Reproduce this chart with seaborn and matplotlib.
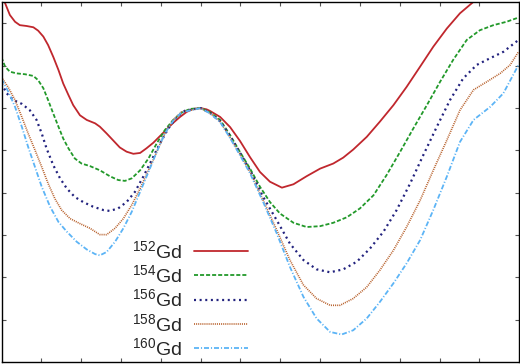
import matplotlib
matplotlib.use('Agg')
import matplotlib.pyplot as plt
import seaborn as sns
import pandas as pd

# deformation (beta) and energy values
beta_152 = [-0.5, -0.491, -0.479, -0.466, -0.454, -0.437, -0.420, -0.408, -0.395, -0.383,
            -0.370, -0.357, -0.345, -0.332, -0.320, -0.303, -0.286, -0.265, -0.253, -0.236,
            -0.219, -0.203, -0.186, -0.169, -0.152, -0.136, -0.119, -0.102, -0.085, -0.069,
            -0.052, -0.035, -0.019, 0.0, 0.015, 0.024, 0.049, 0.074, 0.099, 0.124,
            0.149, 0.174, 0.204, 0.233, 0.266, 0.300, 0.333, 0.358, 0.383, 0.417,
            0.450, 0.484, 0.517, 0.551, 0.584, 0.618, 0.651, 0.681, 0.714]
e_152 = [2.62, 2.48, 2.20, 2.04, 1.96, 1.94, 1.91, 1.83, 1.69, 1.49,
         1.21, 0.90, 0.58, 0.31, 0.07, -0.17, -0.28, -0.36, -0.44, -0.60,
         -0.77, -0.93, -1.03, -1.08, -1.06, -0.95, -0.82, -0.66, -0.50, -0.35,
         -0.21, -0.09, -0.02, 0.0, -0.03, -0.07, -0.21, -0.45, -0.78, -1.16,
         -1.51, -1.74, -1.88, -1.80, -1.61, -1.43, -1.31, -1.17, -0.98, -0.68,
         -0.32, 0.07, 0.50, 0.98, 1.45, 1.88, 2.24, 2.48, 2.74]

beta_154 = [-0.500, -0.491, -0.479, -0.462, -0.441, -0.420, -0.408, -0.395, -0.383, -0.370,
            -0.357, -0.345, -0.332, -0.316, -0.299, -0.278, -0.253, -0.228, -0.207, -0.190,
            -0.173, -0.152, -0.131, -0.110, -0.090, -0.069, -0.048, -0.027, 0.0, 0.024,
            0.049, 0.074, 0.099, 0.124, 0.149, 0.174, 0.199, 0.233, 0.266, 0.300,
            0.333, 0.367, 0.400, 0.434, 0.467, 0.501, 0.534, 0.568, 0.601, 0.634,
            0.668, 0.701, 0.735, 0.768, 0.798]
e_154 = [1.20, 0.98, 0.86, 0.82, 0.80, 0.76, 0.66, 0.47, 0.19, -0.13,
         -0.44, -0.72, -0.95, -1.19, -1.31, -1.37, -1.47, -1.61, -1.70, -1.72,
         -1.66, -1.47, -1.19, -0.83, -0.52, -0.28, -0.11, -0.02, 0.0, -0.10,
         -0.28, -0.64, -1.04, -1.43, -1.86, -2.22, -2.49, -2.71, -2.81, -2.79,
         -2.71, -2.58, -2.37, -2.06, -1.58, -1.03, -0.48, 0.07, 0.62, 1.14,
         1.61, 1.84, 1.96, 2.04, 2.14]

beta_156 = [-0.500, -0.487, -0.470, -0.449, -0.429, -0.412, -0.399, -0.387, -0.370, -0.353,
            -0.336, -0.316, -0.295, -0.270, -0.244, -0.228, -0.207, -0.186, -0.165, -0.144,
            -0.123, -0.102, -0.081, -0.060, -0.039, 0.0, 0.024, 0.049, 0.074, 0.099,
            0.124, 0.157, 0.191, 0.224, 0.258, 0.291, 0.325, 0.358, 0.392, 0.425,
            0.459, 0.492, 0.526, 0.559, 0.593, 0.626, 0.659, 0.693, 0.727, 0.760,
            0.798]
e_156 = [0.58, 0.35, 0.19, 0.10, -0.05, -0.28, -0.60, -0.95, -1.35, -1.66,
         -1.90, -2.10, -2.22, -2.33, -2.41, -2.43, -2.37, -2.22, -1.98, -1.62,
         -1.23, -0.83, -0.48, -0.21, -0.06, 0.0, -0.12, -0.31, -0.66, -1.06,
         -1.47, -2.10, -2.65, -3.20, -3.59, -3.81, -3.88, -3.81, -3.63, -3.32,
         -2.92, -2.41, -1.78, -1.11, -0.44, 0.19, 0.70, 1.02, 1.18, 1.33,
         1.61]

beta_158 = [-0.500, -0.483, -0.466, -0.449, -0.433, -0.416, -0.399, -0.383, -0.366, -0.349,
            -0.328, -0.303, -0.278, -0.253, -0.236, -0.215, -0.194, -0.173, -0.152, -0.131,
            -0.110, -0.090, -0.069, -0.048, 0.0, 0.024, 0.049, 0.074, 0.099, 0.124,
            0.157, 0.191, 0.224, 0.258, 0.291, 0.325, 0.350, 0.383, 0.417, 0.450,
            0.484, 0.517, 0.551, 0.584, 0.618, 0.651, 0.685, 0.718, 0.752, 0.777,
            0.798]
e_158 = [0.73, 0.49, 0.19, -0.21, -0.60, -0.99, -1.39, -1.78, -2.14, -2.41,
         -2.61, -2.73, -2.84, -2.99, -2.99, -2.84, -2.61, -2.29, -1.90, -1.47,
         -1.03, -0.60, -0.28, -0.09, 0.0, -0.12, -0.32, -0.69, -1.10, -1.51,
         -2.18, -2.88, -3.59, -4.18, -4.50, -4.66, -4.66, -4.50, -4.23, -3.83,
         -3.36, -2.81, -2.18, -1.47, -0.76, -0.05, 0.43, 0.62, 0.82, 1.02,
         1.33]

beta_160 = [-0.500, -0.483, -0.466, -0.449, -0.433, -0.416, -0.399, -0.378, -0.357, -0.336,
            -0.311, -0.286, -0.265, -0.253, -0.236, -0.215, -0.194, -0.173, -0.152, -0.131,
            -0.110, -0.090, -0.069, -0.048, 0.0, 0.024, 0.049, 0.074, 0.099, 0.124,
            0.157, 0.191, 0.224, 0.258, 0.291, 0.325, 0.354, 0.383, 0.417, 0.450,
            0.484, 0.517, 0.551, 0.584, 0.618, 0.651, 0.685, 0.727, 0.760, 0.798]
e_160 = [0.69, 0.39, 0.03, -0.44, -0.92, -1.39, -1.86, -2.33, -2.69, -2.92,
         -3.16, -3.34, -3.45, -3.48, -3.40, -3.16, -2.84, -2.45, -1.98, -1.51,
         -1.03, -0.60, -0.30, -0.10, 0.0, -0.13, -0.33, -0.71, -1.12, -1.54,
         -2.22, -2.96, -3.75, -4.46, -4.97, -5.29, -5.35, -5.25, -4.97, -4.58,
         -4.14, -3.67, -3.12, -2.41, -1.62, -0.80, -0.28, 0.03, 0.35, 1.02]

labels = [r'$^{152}$Gd', r'$^{154}$Gd', r'$^{156}$Gd', r'$^{158}$Gd', r'$^{160}$Gd']
colors = ['#C0272D', '#22992A', '#22227E', '#B8612C', '#5CB4F6']

sns.set_style('ticks')
plt.rcParams['font.family'] = ['Liberation Sans', 'DejaVu Sans']
plt.rcParams['mathtext.fontset'] = 'custom'
plt.rcParams['mathtext.rm'] = 'Liberation Sans'
plt.rcParams['mathtext.it'] = 'Liberation Sans:italic'
plt.rcParams['lines.scale_dashes'] = False

fig = plt.figure(figsize=(5.2, 3.64), dpi=100)
ax = fig.add_axes([1.5 / 520, 2 / 364, 517.8 / 520, 359.7 / 364])

series = [(beta_152, e_152), (beta_154, e_154), (beta_156, e_156),
          (beta_158, e_158), (beta_160, e_160)]
styles = ['-', (0, (2.9, 1.45)), (0, (1.45, 2.6)), (0, (0.75, 0.75)),
          (0, (3.6, 1.4, 0.8, 1.4))]
widths = [1.3, 1.3, 1.6, 1.2, 1.3]

for (b, e), lab, col, ls, lw in zip(series, labels, colors, styles, widths):
    df = pd.DataFrame({'beta': b, 'E': e})
    sns.lineplot(data=df, x='beta', y='E', ax=ax, color=col, linestyle=ls,
                 linewidth=lw, label=lab)

ax.set_xlim(-0.5, 0.8)
ax.set_ylim(-6, 2.5)
ax.set_xticks([-0.4, -0.3, -0.2, -0.1, 0.0, 0.1, 0.2, 0.3, 0.4, 0.5, 0.6, 0.7])
ax.set_yticks([-5, -4, -3, -2, -1, 0, 1, 2])
ax.tick_params(direction='in', top=True, right=True, length=3, width=0.8,
               color='#555555', labelbottom=False, labelleft=False)
ax.set_xlabel('')
ax.set_ylabel('')
for sp in ax.spines.values():
    sp.set_visible(True)
    sp.set_color('black')
    sp.set_linewidth(1.0)

ax.legend(loc='upper right', bbox_to_anchor=(0.4755, 0.339), frameon=False,
          markerfirst=False, borderpad=0, borderaxespad=0, handlelength=2.75,
          handletextpad=0.63, labelspacing=0.12, fontsize=14)

fig.savefig('out.png', dpi=100)
